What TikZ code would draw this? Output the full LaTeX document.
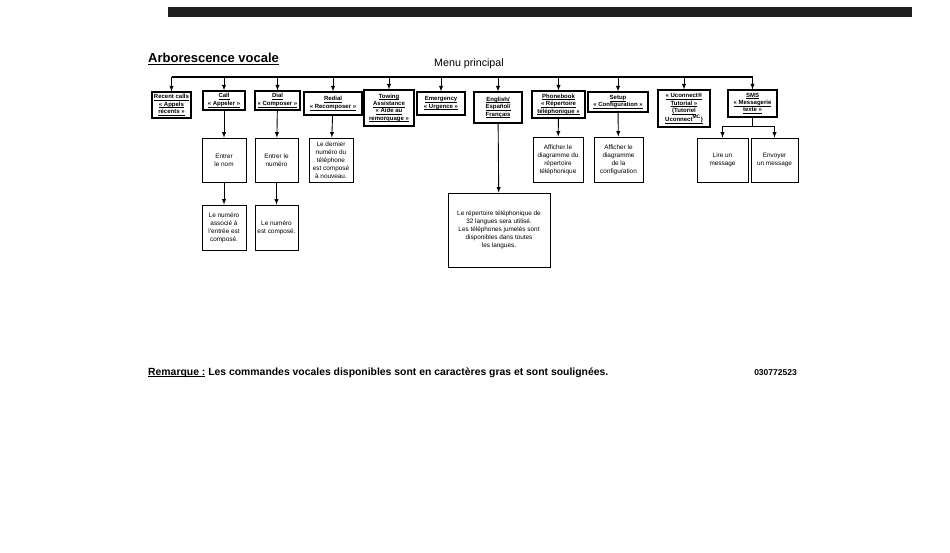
\documentclass[tikz,border=0pt]{standalone}
\usepackage{fontspec}
\setmainfont{Liberation Sans}
\newcommand{\cmd}[1]{\underline{\raisebox{0pt}[\height][0pt]{#1}}}

\begin{document}
\begin{tikzpicture}
[every node/.style={inner sep=0pt},
 cmdbox/.style={draw=black, line width=1.1pt, align=center, font=\fontsize{6pt}{7.4pt}\selectfont\bfseries},
 infobox/.style={draw=black, line width=0.8pt, align=center, font=\fontsize{6.4pt}{7.9pt}\selectfont},
 arrow/.style={->, >=latex, line width=0.9pt}]
\useasboundingbox (0pt, 0pt) rectangle (950pt, -553pt);
\fill [color=black!88] (168pt, -7pt) rectangle (912pt, -17pt);
\node (title) [anchor=base west, font=\fontsize{13pt}{15pt}\selectfont\bfseries] at (148pt, -63pt) {\cmd{Arborescence vocale}};
\node (menu) [font=\fontsize{10.7pt}{12pt}\selectfont] at (469pt, -64pt) {Menu principal};
% first level
\node (recent) [cmdbox, minimum width=39pt, minimum height=26pt] at (171.5pt, -105pt) {\cmd{Recent calls}\\\cmd{« Appels}\\\cmd{récents »}};
\node (call) [cmdbox, minimum width=42pt, minimum height=19pt] at (224pt, -100.5pt) {\cmd{Call}\\\cmd{« Appeler »}};
\node (dial) [cmdbox, minimum width=45pt, minimum height=19pt] at (277.5pt, -100.5pt) {\cmd{Dial}\\\cmd{« Composer »}};
\node (redial) [cmdbox, minimum width=58pt, minimum height=23pt] at (333pt, -103.5pt) {\cmd{Redial}\\\cmd{« Recomposer »}};
\node (towing) [cmdbox, minimum width=50pt, minimum height=36pt] at (389pt, -108pt) {\cmd{Towing}\\\cmd{Assistance}\\\cmd{« Aide au}\\\cmd{remorquage »}};
\node (emergency) [cmdbox, minimum width=48pt, minimum height=23pt] at (441pt, -103.5pt) {\cmd{Emergency}\\\cmd{« Urgence »}};
\node (english) [cmdbox, minimum width=48pt, minimum height=31pt] at (498pt, -107.5pt) {\cmd{English/}\\\cmd{Español/}\\\cmd{Français}};
\node (phonebook) [cmdbox, minimum width=53pt, minimum height=27pt] at (558.5pt, -104.5pt) {\cmd{Phonebook}\\\cmd{« Répertoire}\\\cmd{téléphonique »}};
\node (setup) [cmdbox, minimum width=60pt, minimum height=20pt] at (618pt, -102pt) {\cmd{Setup}\\\cmd{« Configuration »}};
\node (uconnect) [cmdbox, minimum width=52pt, minimum height=37pt] at (684pt, -108.5pt) {\cmd{« Uconnect®}\\\cmd{Tutorial »}\\\cmd{(Tutoriel}\\\cmd{Uconnect\textsuperscript{MC})}};
\node (sms) [cmdbox, minimum width=49pt, minimum height=27pt] at (752.5pt, -103.5pt) {\cmd{SMS}\\\cmd{« Messagerie}\\\cmd{texte »}};
% second level
\node (callA) [infobox, minimum width=44pt, minimum height=44pt] at (224pt, -160pt) {Entrer\\le nom};
\node (callB) [infobox, minimum width=44pt, minimum height=45pt] at (224pt, -227.5pt) {Le numéro\\associé à\\l'entrée est\\composé.};
\node (dialA) [infobox, minimum width=43pt, minimum height=44pt] at (276.5pt, -160pt) {Entrer le\\numéro};
\node (dialB) [infobox, minimum width=43pt, minimum height=45pt] at (276.5pt, -227.5pt) {Le numéro\\est composé.};
\node (redialA) [infobox, minimum width=44pt, minimum height=44pt] at (331pt, -160pt) {Le dernier\\numéro du\\téléphone\\est composé\\à nouveau.};
\node (englishA) [infobox, minimum width=102pt, minimum height=74pt] at (499pt, -230pt) {Le répertoire téléphonique de\\32 langues sera utilisé.\\Les téléphones jumelés sont\\disponibles dans toutes\\les langues.};
\node (phoneA) [infobox, minimum width=50pt, minimum height=45pt] at (558pt, -159.5pt) {Afficher le\\diagramme du\\répertoire\\téléphonique};
\node (setupA) [infobox, minimum width=49pt, minimum height=45pt] at (618.5pt, -159.5pt) {Afficher le\\diagramme\\de la\\configuration};
\node (smsA) [infobox, minimum width=51pt, minimum height=44pt] at (722.5pt, -160pt) {Lire un\\message};
\node (smsB) [infobox, minimum width=47pt, minimum height=44pt] at (774.5pt, -160pt) {Envoyer\\un message};
% connectors
\coordinate (busL) at (171.5pt, -77pt);
\coordinate (busR) at (752.5pt, -77pt);
\coordinate (smsbar) at (752.5pt, -126pt);
\draw [line width=1.2pt] (busL) -- (busR);
\foreach \n in {recent, call, dial, redial, towing, emergency, english, phonebook, setup, uconnect, sms}
  \draw [arrow] (\n.north |- busL) -- (\n.north);
\draw [arrow] (call) -- (callA);
\draw [arrow] (callA) -- (callB);
\draw [arrow] (dial) -- (dialA);
\draw [arrow] (dialA) -- (dialB);
\draw [arrow] (redial) -- (redialA);
\draw [arrow] (english) -- (englishA);
\draw [arrow] (phonebook) -- (phoneA);
\draw [arrow] (setup) -- (setupA);
\draw [line width=0.9pt] (sms) -- (smsbar);
\draw [line width=0.9pt] (smsA.north |- smsbar) -- (smsB.north |- smsbar);
\draw [arrow] (smsA.north |- smsbar) -- (smsA);
\draw [arrow] (smsB.north |- smsbar) -- (smsB);
% note
\node (note) [anchor=base west, font=\fontsize{10.4pt}{12pt}\selectfont\bfseries] at (148pt, -375pt) {\cmd{Remarque :} Les commandes vocales disponibles sont en caractères gras et sont soulignées.};
\node (code) [anchor=base east, font=\fontsize{8.5pt}{10pt}\selectfont\bfseries] at (797pt, -375pt) {030772523};
\end{tikzpicture}
\end{document}
